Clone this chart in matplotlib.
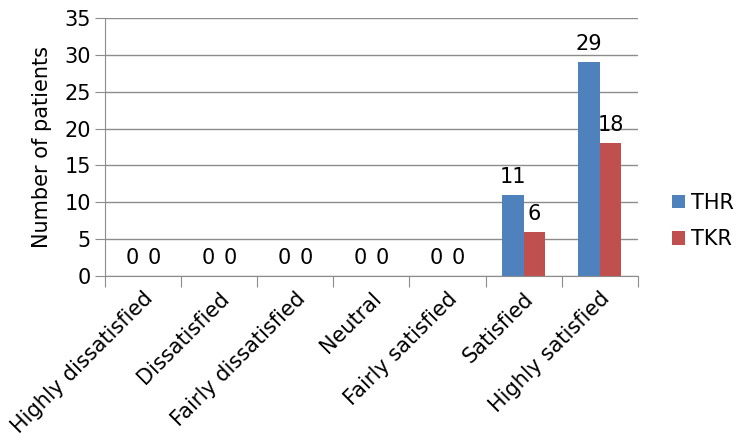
# Patient satisfaction after THR / TKR
import matplotlib.pyplot as plt
import numpy as np

plt.rcParams["font.family"] = "DejaVu Sans"

# DATA
categories = ["Highly dissatisfied", "Dissatisfied", "Fairly dissatisfied",
              "Neutral", "Fairly satisfied", "Satisfied", "Highly satisfied"]
thr = [0, 0, 0, 0, 0, 11, 29]
tkr = [0, 0, 0, 0, 0, 6, 18]

# FIGURE
fig = plt.figure(figsize=(7.39, 4.43), dpi=100)
ax = fig.add_axes([0.142, 0.377, 0.721, 0.582])

x = np.arange(len(categories))
w = 0.285
b1 = ax.bar(x - w / 2, thr, w, color="#4F81BD", label="THR", zorder=3)
b2 = ax.bar(x + w / 2, tkr, w, color="#C0504D", label="TKR", zorder=3)

# Data labels
for bars in (b1, b2):
    for rect in bars:
        h = rect.get_height()
        ax.text(rect.get_x() + rect.get_width() / 2, h + 1.1, f"{int(h)}",
                ha="center", va="bottom", fontsize=15)

## AXES
ax.set_xlim(-0.5, len(categories) - 0.5)
ax.set_ylim(0, 35)
ax.set_yticks(range(0, 36, 5))
ax.yaxis.grid(True, color="#8C8C8C", linewidth=1, zorder=0)
ax.tick_params(axis="y", labelsize=15, length=7, color="#8C8C8C", pad=3)

# Category ticks between groups, labels centred on groups
ax.set_xticks(np.arange(-0.5, len(categories)), minor=False)
ax.set_xticklabels([])
ax.set_xticks(x, minor=True)
ax.set_xticklabels(categories, minor=True, rotation=45, ha="right",
                   rotation_mode="anchor", fontsize=15)
ax.tick_params(axis="x", which="major", length=8, color="#8C8C8C")
ax.tick_params(axis="x", which="minor", length=0, pad=9)

for side in ("top", "right"):
    ax.spines[side].set_visible(False)
for side in ("left", "bottom"):
    ax.spines[side].set_color("#8C8C8C")

ax.set_ylabel("Number of patients", fontsize=15, labelpad=9)

# Legend on the right
ax.legend(loc="center left", bbox_to_anchor=(1.03, 0.213), frameon=False,
          fontsize=15, handlelength=0.6, handleheight=0.6, handletextpad=0.3,
          labelspacing=0.8)

plt.savefig("out.png", dpi=100)
